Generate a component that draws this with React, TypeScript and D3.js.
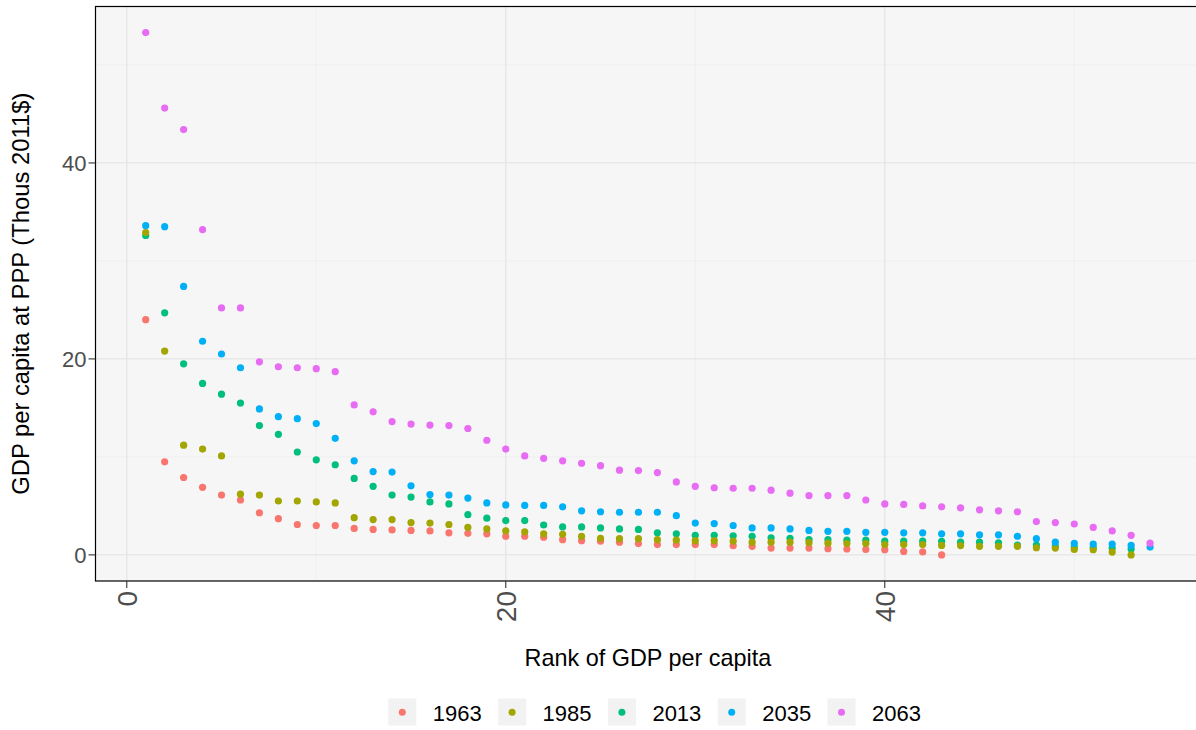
import React from "react";
import * as d3 from "d3";

const years = ["1963", "1985", "2013", "2035", "2063"];
const colors = ["#F8766D", "#A3A500", "#00BF7D", "#00B0F6", "#E76BF3"];

const v1963 = [24.0, 9.5, 7.9, 6.9, 6.1, 5.6, 4.3, 3.7, 3.1, 3.0, 3.0, 2.7, 2.6, 2.55, 2.5, 2.45, 2.25, 2.2, 2.15, 1.9, 1.9, 1.8, 1.55, 1.45, 1.4, 1.3, 1.15, 1.05, 1.05, 1.05, 1.05, 0.93, 0.87, 0.7, 0.7, 0.7, 0.63, 0.6, 0.56, 0.53, 0.35, 0.3, 0.0];
const v1985 = [32.9, 20.8, 11.2, 10.8, 10.1, 6.2, 6.1, 5.5, 5.5, 5.4, 5.3, 3.8, 3.6, 3.6, 3.3, 3.25, 3.1, 2.8, 2.65, 2.45, 2.35, 2.15, 2.1, 1.9, 1.7, 1.65, 1.65, 1.55, 1.5, 1.45, 1.45, 1.4, 1.3, 1.3, 1.3, 1.25, 1.2, 1.15, 1.15, 1.05, 1.05, 1.05, 0.97, 0.95, 0.87, 0.87, 0.87, 0.73, 0.7, 0.56, 0.53, 0.29, 0.0];
const v2013 = [32.6, 24.7, 19.5, 17.5, 16.4, 15.5, 13.2, 12.3, 10.5, 9.7, 9.2, 7.8, 7.0, 6.1, 5.9, 5.4, 5.2, 4.1, 3.75, 3.5, 3.5, 3.05, 2.85, 2.85, 2.75, 2.65, 2.6, 2.25, 2.15, 2.0, 2.0, 1.95, 1.9, 1.75, 1.7, 1.55, 1.55, 1.5, 1.5, 1.4, 1.4, 1.4, 1.38, 1.3, 1.3, 1.24, 1.0, 1.0, 0.9, 0.8, 0.75, 0.7, 0.6];
const v2035 = [33.6, 33.5, 27.4, 21.8, 20.5, 19.1, 14.9, 14.1, 13.9, 13.4, 11.9, 9.6, 8.5, 8.45, 7.05, 6.15, 6.1, 5.8, 5.3, 5.1, 5.05, 5.05, 4.9, 4.5, 4.4, 4.35, 4.35, 4.35, 4.0, 3.25, 3.2, 3.0, 2.75, 2.75, 2.65, 2.5, 2.4, 2.4, 2.3, 2.3, 2.25, 2.25, 2.15, 2.15, 2.05, 2.05, 1.9, 1.65, 1.3, 1.17, 1.1, 1.1, 0.97, 0.8];
const v2063 = [53.3, 45.6, 43.4, 33.2, 25.2, 25.2, 19.7, 19.2, 19.1, 19.0, 18.7, 15.3, 14.6, 13.6, 13.35, 13.25, 13.2, 12.9, 11.7, 10.8, 10.1, 9.85, 9.6, 9.35, 9.1, 8.65, 8.6, 8.4, 7.45, 7.0, 6.85, 6.8, 6.8, 6.6, 6.3, 6.05, 6.05, 6.05, 5.6, 5.2, 5.15, 5.0, 4.9, 4.8, 4.6, 4.5, 4.4, 3.4, 3.3, 3.15, 2.8, 2.45, 2.0, 1.2];

const seriesValues = [v1963, v1985, v2013, v2035, v2063];
const drawOrder = [0, 2, 1, 3, 4];

const xMajor = [0, 20, 40];
const xMinor = [10, 30, 50];
const yMajor = [0, 20, 40];
const yMinor = [10, 30, 50];

const W = 1196;
const H = 730;
const left = 95.5;
const right = 1200.3;
const top = 6.5;
const bottom = 581;
const FONT = "'Liberation Sans', Arial, Helvetica, sans-serif";

export default function App() {
  const xs = d3.scaleLinear().domain([-1.65, 56.65]).range([left, right]);
  const ys = d3.scaleLinear().domain([-2.665, 55.965]).range([bottom, top]);

  return (
    <svg width={W} height={H} style={{ position: "absolute", left: 0, top: 0, background: "#fff" }} fontFamily={FONT}>
      <defs>
        <clipPath id="panel">
          <rect x={left} y={top} width={right - left} height={bottom - top} />
        </clipPath>
      </defs>
      <rect x={left} y={top} width={right - left} height={bottom - top} fill="#F6F6F6" />
      <g clipPath="url(#panel)">
        {xMinor.map((v) => (
          <line key={"xm" + v} x1={xs(v)} x2={xs(v)} y1={top} y2={bottom} stroke="#ECECEC" strokeWidth={0.7} />
        ))}
        {yMinor.map((v) => (
          <line key={"ym" + v} y1={ys(v)} y2={ys(v)} x1={left} x2={right} stroke="#ECECEC" strokeWidth={0.7} />
        ))}
        {xMajor.map((v) => (
          <line key={"xM" + v} x1={xs(v)} x2={xs(v)} y1={top} y2={bottom} stroke="#E5E5E5" strokeWidth={1.3} />
        ))}
        {yMajor.map((v) => (
          <line key={"yM" + v} y1={ys(v)} y2={ys(v)} x1={left} x2={right} stroke="#E5E5E5" strokeWidth={1.3} />
        ))}
        {drawOrder.map((si) => (
          <g key={years[si]}>
            {seriesValues[si].map((v, i) => (
              <circle key={i} cx={xs(i + 1)} cy={ys(v)} r={3.6} fill={colors[si]} />
            ))}
          </g>
        ))}
      </g>
      <rect x={left} y={top} width={right - left} height={bottom - top} fill="none" stroke="#000" strokeWidth={1.2} />

      {yMajor.map((v) => (
        <g key={"yt" + v}>
          <line x1={left - 7} x2={left} y1={ys(v)} y2={ys(v)} stroke="#333" strokeWidth={1.1} />
          <text x={86.5} y={ys(v)} dy="0.36em" textAnchor="end" fontSize={22} fill="#4D4D4D">
            {v}
          </text>
        </g>
      ))}
      {xMajor.map((v) => (
        <g key={"xt" + v}>
          <line x1={xs(v)} x2={xs(v)} y1={bottom} y2={bottom + 7} stroke="#333" strokeWidth={1.1} />
          <text
            transform={`translate(${xs(v)},${591}) rotate(-90)`}
            dy="0.36em"
            textAnchor="end"
            fontSize={28}
            fill="#4D4D4D"
          >
            {v}
          </text>
        </g>
      ))}

      <text x={(left + right) / 2} y={666} textAnchor="middle" fontSize={23.4} fill="#000">
        Rank of GDP per capita
      </text>
      <text transform={`translate(${29},${(top + bottom) / 2}) rotate(-90)`} textAnchor="middle" fontSize={23.8} fill="#000">
        GDP per capita at PPP (Thous 2011$)
      </text>

      {years.map((y, i) => {
        const cx = 402.3 + i * 109.8;
        return (
          <g key={"lg" + y}>
            <rect x={cx - 14} y={698.5} width={28} height={27} fill="#F2F2F2" />
            <circle cx={cx} cy={712.2} r={3.5} fill={colors[i]} />
            <text x={cx + 30.5} y={720.6} fontSize={22} fill="#000">
              {y}
            </text>
          </g>
        );
      })}
    </svg>
  );
}
